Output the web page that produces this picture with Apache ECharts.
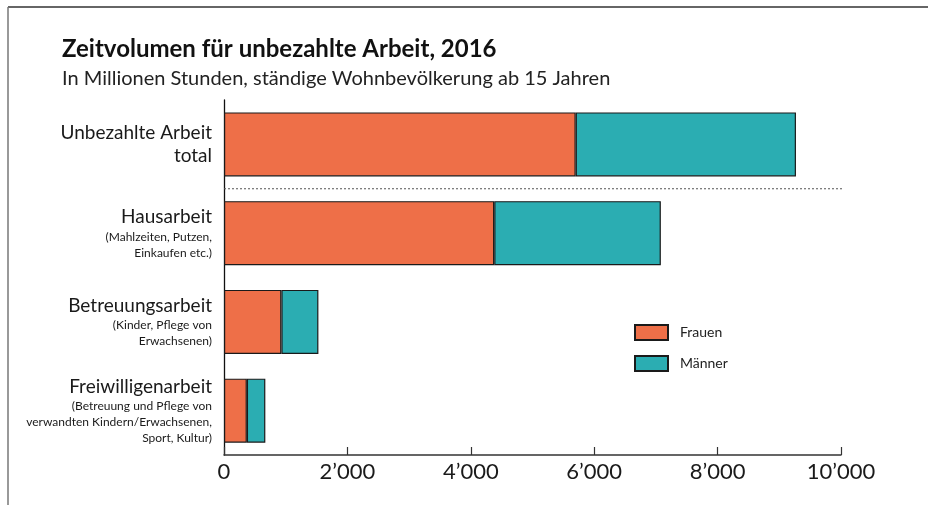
<!DOCTYPE html>
<html lang="de">
<head>
<meta charset="utf-8">
<title>Zeitvolumen für unbezahlte Arbeit, 2016</title>
<script src="https://cdn.jsdelivr.net/npm/echarts@6/dist/echarts.min.js"></script>
<style>
  html, body { margin: 0; padding: 0; background: #fff; }
  #chart { width: 928px; height: 505px; }
</style>
</head>
<body>
<div id="chart"></div>
<script>
// Kategorien (von oben nach unten)
var categories = ['total', 'haus', 'betreuung', 'freiwillig'];
var catTitles = ['Unbezahlte Arbeit\ntotal', 'Hausarbeit', 'Betreuungsarbeit', 'Freiwilligenarbeit'];
var catNotes = ['', '(Mahlzeiten, Putzen,\nEinkaufen etc.)', '(Kinder, Pflege von\nErwachsenen)',
  '(Betreuung und Pflege von\nverwandten Kindern/Erwachsenen,\nSport, Kultur)'];

// Werte in Mio. Stunden (aus der Grafik geschätzt)
var frauen = [5700, 4380, 930, 370];
var maenner = [3570, 2700, 600, 300];

var xTicks = [0, 2000, 4000, 6000, 8000, 10000];

// gepunktete Trennlinie zwischen Total und den Teilbereichen
var separator = [[0, 1], [10080, 1]];

var FONT = 'Lato, "Open Sans", sans-serif';
var chart = echarts.init(document.getElementById('chart'));

function fmt(v) {
  return String(v).replace(/\B(?=(\d{3})+(?!\d))/g, '\u2019');
}

var option = {
  animation: false,
  textStyle: { fontFamily: FONT },
  title: [
    { text: 'Zeitvolumen für unbezahlte Arbeit, 2016', left: 62, top: 37, padding: 0,
      textStyle: { fontFamily: FONT, fontSize: 24, fontWeight: 'bold', color: '#111' } },
    { text: 'In Millionen Stunden, ständige Wohnbevölkerung ab 15 Jahren', left: 62, top: 69, padding: 0,
      textStyle: { fontFamily: FONT, fontSize: 20, fontWeight: 'normal', color: '#222' } }
  ],
  legend: {
    orient: 'vertical', left: 634, top: 324, padding: 0,
    icon: 'rect',
    itemWidth: 33, itemHeight: 15, itemGap: 14,
    textStyle: { fontSize: 14, color: '#222', padding: [0, 0, 0, 7] },
    data: ['Frauen', 'Männer']
  },
  grid: { left: 224, right: 87, top: 100, bottom: 50, containLabel: false },
  xAxis: {
    type: 'value', min: 0, max: 10000, interval: 2000,
    axisLine: { show: true, onZero: false, lineStyle: { color: '#333', width: 1.5 } },
    axisTick: { show: true, inside: true, length: 8, lineStyle: { color: '#333', width: 1.2 } },
    splitLine: { show: false },
    axisLabel: { fontSize: 22, color: '#1a1a1a', margin: 6, formatter: fmt }
  },
  yAxis: [
    {
      type: 'category', inverse: true, data: categories,
      axisLine: { show: true, onZero: false, lineStyle: { color: '#111', width: 1.3 } },
      axisTick: { show: false },
      axisLabel: {
        margin: 12, align: 'right',
        formatter: function (v, i) {
          var t = catTitles[i].split('\n').map(function (s) { return '{m|' + s + '}'; }).join('\n');
          if (catNotes[i]) {
            t += '\n' + catNotes[i].split('\n').map(function (s) { return '{s|' + s + '}'; }).join('\n');
          }
          return t;
        },
        rich: {
          m: { fontFamily: FONT, fontSize: 19, lineHeight: 23, color: '#1a1a1a', align: 'right' },
          s: { fontFamily: FONT, fontSize: 12, lineHeight: 16, color: '#1a1a1a', align: 'right' }
        }
      }
    },
    { type: 'value', inverse: true, min: 0, max: 4, show: false }
  ],
  series: [
    {
      name: 'Frauen', type: 'bar', stack: 'a', barWidth: 64, data: frauen,
      itemStyle: { color: '#ee6f48', borderColor: '#1a1a1a', borderWidth: 1.2 }
    },
    {
      name: 'Männer', type: 'bar', stack: 'a', barWidth: 64, data: maenner,
      itemStyle: { color: '#2badb2', borderColor: '#1a1a1a', borderWidth: 1.2 }
    },
    {
      name: 'trenn', type: 'line', yAxisIndex: 1, data: separator,
      symbol: 'none', silent: true,
      lineStyle: { color: '#555', type: [2, 2], width: 1.2 }
    }
  ],
  graphic: [
    { type: 'line', shape: { x1: 8, y1: 7, x2: 928, y2: 7 }, style: { stroke: '#333', lineWidth: 1.5 } },
    { type: 'line', shape: { x1: 8, y1: 7, x2: 8, y2: 505 }, style: { stroke: '#777', lineWidth: 1.5 } }
  ]
};

chart.setOption(option);
</script>
</body>
</html>
